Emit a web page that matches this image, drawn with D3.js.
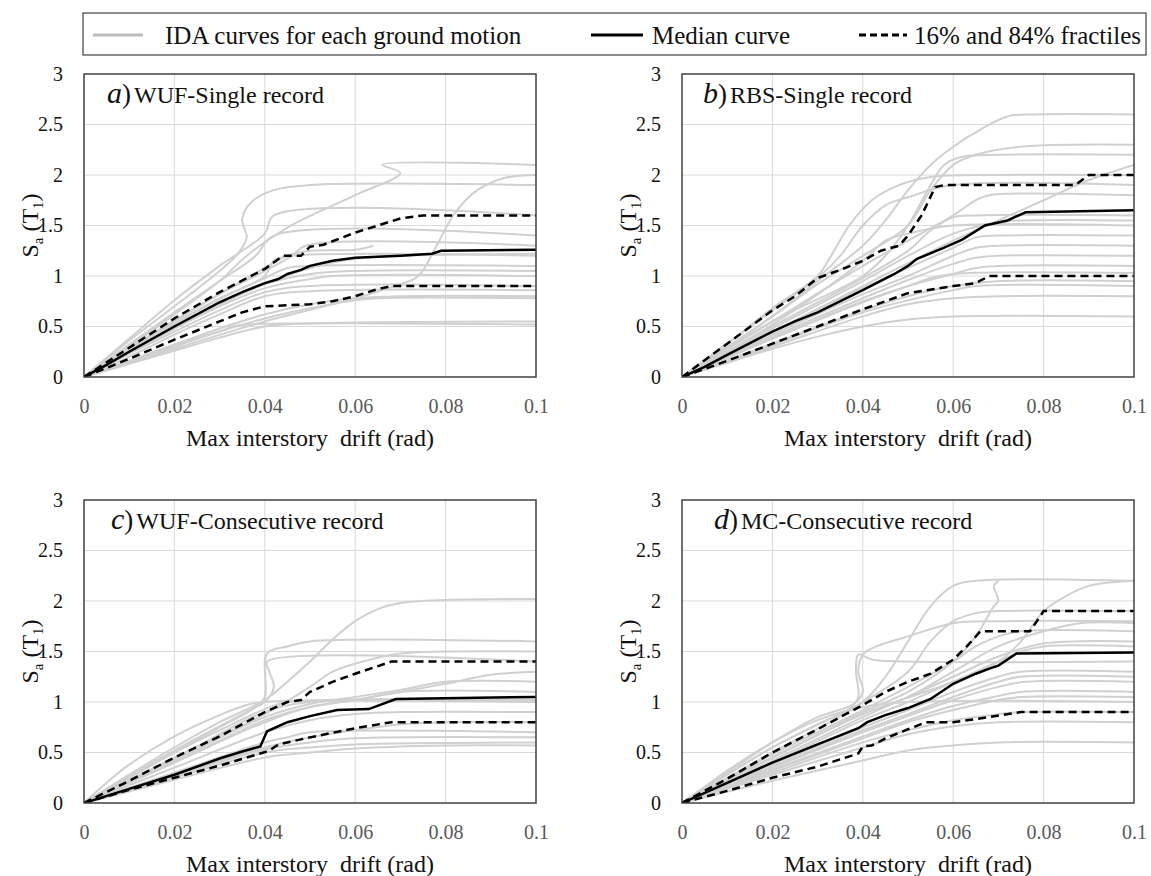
<!DOCTYPE html>
<html>
<head>
<meta charset="utf-8">
<script src="https://cdn.jsdelivr.net/npm/d3@7"></script>
<style>
  body { margin: 0; background: #fff; }
  svg, svg text { font-family: "Liberation Serif", "Tinos", "Times New Roman", "DejaVu Serif", serif; }
</style>
</head>
<body>
<svg id="chart" width="1151" height="876"></svg>
<script>
// tick values
const xTicks = [0, 0.02, 0.04, 0.06, 0.08, 0.1];
const yTicks = [0, 0.5, 1, 1.5, 2, 2.5, 3];

const legendLabels = ["IDA curves for each ground motion", "Median curve", "16% and 84% fractiles"];
const panelLetters = ["a", "b", "c", "d"];
const panelTitles = ["WUF-Single record", "RBS-Single record", "WUF-Consecutive record", "MC-Consecutive record"];

// ---- a) WUF-Single record ----
const idaA = [
  [[0,0],[0.01,0.3],[0.02,0.62],[0.03,0.95],[0.036,1.2],[0.045,1.48],[0.06,1.8],[0.07,2.02],[0.066,2.1],[0.1,2.1]],
  [[0,0],[0.02,0.28],[0.04,0.55],[0.06,0.78],[0.07,0.92],[0.074,1.0],[0.078,1.3],[0.082,1.62],[0.087,1.85],[0.093,1.97],[0.1,2.0]],
  [[0,0],[0.01,0.36],[0.02,0.7],[0.03,1.05],[0.034,1.22],[0.036,1.38],[0.035,1.56],[0.037,1.73],[0.042,1.85],[0.05,1.9],[0.1,1.9]],
  [[0,0],[0.01,0.38],[0.02,0.76],[0.03,1.1],[0.04,1.42],[0.042,1.6],[0.1,1.6]],
  [[0,0],[0.01,0.32],[0.02,0.64],[0.03,0.95],[0.038,1.2],[0.042,1.4],[0.1,1.4]],
  [[0,0],[0.01,0.28],[0.02,0.55],[0.03,0.82],[0.04,1.05],[0.046,1.2],[0.049,1.3],[0.1,1.3]],
  [[0,0],[0.02,0.56],[0.04,1.08],[0.045,1.2],[0.05,1.25],[0.06,1.26],[0.064,1.3]],
  [[0,0],[0.01,0.24],[0.02,0.48],[0.03,0.72],[0.04,0.92],[0.05,1.08],[0.06,1.17],[0.07,1.2],[0.1,1.22]],
  [[0,0],[0.01,0.27],[0.02,0.53],[0.03,0.78],[0.04,1.0],[0.042,1.15],[0.046,1.2],[0.1,1.2]],
  [[0,0],[0.01,0.26],[0.02,0.52],[0.03,0.77],[0.04,0.98],[0.045,1.08],[0.05,1.1],[0.1,1.1]],
  [[0,0],[0.01,0.25],[0.02,0.5],[0.03,0.74],[0.04,0.92],[0.05,1.02],[0.06,1.05],[0.1,1.05]],
  [[0,0],[0.01,0.24],[0.02,0.48],[0.03,0.7],[0.04,0.88],[0.05,0.97],[0.055,1.0],[0.1,1.0]],
  [[0,0],[0.01,0.23],[0.02,0.45],[0.03,0.66],[0.04,0.84],[0.05,0.9],[0.1,0.9]],
  [[0,0],[0.01,0.2],[0.02,0.42],[0.03,0.62],[0.04,0.8],[0.05,0.85],[0.1,0.86]],
  [[0,0],[0.01,0.16],[0.02,0.32],[0.03,0.48],[0.04,0.62],[0.05,0.72],[0.06,0.78],[0.07,0.8],[0.1,0.8]],
  [[0,0],[0.01,0.15],[0.02,0.3],[0.03,0.45],[0.04,0.58],[0.05,0.68],[0.06,0.76],[0.065,0.78],[0.1,0.78]],
  [[0,0],[0.01,0.16],[0.02,0.32],[0.03,0.45],[0.033,0.5],[0.036,0.52],[0.1,0.52]],
  [[0,0],[0.01,0.13],[0.02,0.26],[0.03,0.39],[0.04,0.5],[0.05,0.53],[0.1,0.55]]
];
const medianA = [[0,0],[0.005,0.12],[0.01,0.25],[0.02,0.5],[0.03,0.74],[0.035,0.84],[0.04,0.93],[0.043,0.97],[0.045,1.02],[0.048,1.06],[0.05,1.1],[0.055,1.15],[0.06,1.18],[0.07,1.2],[0.077,1.22],[0.079,1.25],[0.1,1.26]];
const upperA = [[0,0],[0.01,0.29],[0.02,0.58],[0.03,0.84],[0.04,1.07],[0.044,1.2],[0.048,1.2],[0.05,1.29],[0.053,1.31],[0.06,1.43],[0.065,1.5],[0.07,1.57],[0.075,1.6],[0.1,1.6]];
const lowerA = [[0,0],[0.01,0.18],[0.02,0.37],[0.03,0.55],[0.035,0.64],[0.04,0.7],[0.045,0.71],[0.05,0.72],[0.055,0.75],[0.06,0.8],[0.065,0.87],[0.068,0.9],[0.1,0.9]];

// ---- b) RBS-Single record ----
const idaB = [
  [[0,0],[0.02,0.6],[0.03,0.95],[0.04,1.3],[0.045,1.55],[0.05,1.85],[0.055,2.1],[0.06,2.28],[0.066,2.45],[0.072,2.58],[0.078,2.6],[0.1,2.6]],
  [[0,0],[0.02,0.6],[0.03,0.92],[0.04,1.2],[0.05,1.5],[0.055,1.85],[0.06,2.1],[0.065,2.2],[0.075,2.28],[0.1,2.3]],
  [[0,0],[0.02,0.55],[0.04,1.0],[0.045,1.2],[0.05,1.5],[0.055,1.9],[0.058,2.1],[0.062,2.18],[0.07,2.2],[0.1,2.2]],
  [[0,0],[0.02,0.45],[0.04,0.9],[0.06,1.35],[0.07,1.55],[0.08,1.75],[0.09,1.95],[0.1,2.1]],
  [[0,0],[0.01,0.33],[0.02,0.68],[0.03,1.0],[0.033,1.2],[0.037,1.5],[0.042,1.75],[0.048,1.9],[0.055,1.98],[0.07,2.0],[0.1,2.0]],
  [[0,0],[0.02,0.66],[0.03,0.98],[0.035,1.2],[0.04,1.5],[0.045,1.7],[0.05,1.78],[0.06,1.9],[0.1,1.9]],
  [[0,0],[0.02,0.55],[0.04,1.1],[0.05,1.35],[0.06,1.6],[0.065,1.75],[0.068,1.8],[0.1,1.8]],
  [[0,0],[0.02,0.5],[0.04,0.98],[0.05,1.25],[0.055,1.45],[0.06,1.58],[0.065,1.6],[0.1,1.6]],
  [[0,0],[0.02,0.48],[0.04,0.95],[0.05,1.2],[0.06,1.42],[0.07,1.53],[0.075,1.55],[0.1,1.55]],
  [[0,0],[0.02,0.52],[0.04,1.15],[0.045,1.35],[0.05,1.42],[0.06,1.5],[0.1,1.5]],
  [[0,0],[0.02,0.45],[0.04,0.88],[0.05,1.08],[0.06,1.28],[0.065,1.38],[0.07,1.4],[0.1,1.4]],
  [[0,0],[0.02,0.42],[0.04,0.82],[0.05,1.0],[0.06,1.2],[0.065,1.28],[0.07,1.3],[0.1,1.3]],
  [[0,0],[0.02,0.4],[0.04,0.78],[0.05,0.96],[0.06,1.12],[0.065,1.18],[0.07,1.2],[0.1,1.2]],
  [[0,0],[0.02,0.38],[0.04,0.75],[0.05,0.9],[0.06,1.02],[0.065,1.08],[0.07,1.1],[0.1,1.1]],
  [[0,0],[0.02,0.38],[0.04,0.74],[0.05,0.9],[0.055,0.98],[0.06,1.02],[0.1,1.03]],
  [[0,0],[0.02,0.33],[0.04,0.66],[0.05,0.8],[0.06,0.9],[0.07,0.95],[0.1,0.95]],
  [[0,0],[0.02,0.32],[0.04,0.64],[0.05,0.76],[0.06,0.86],[0.065,0.9],[0.1,0.9]],
  [[0,0],[0.02,0.3],[0.04,0.6],[0.05,0.72],[0.06,0.78],[0.07,0.8],[0.1,0.8]],
  [[0,0],[0.01,0.14],[0.02,0.28],[0.03,0.4],[0.04,0.5],[0.05,0.57],[0.06,0.6],[0.1,0.6]]
];
const medianB = [[0,0],[0.005,0.1],[0.01,0.22],[0.02,0.45],[0.025,0.55],[0.03,0.64],[0.04,0.86],[0.047,1.02],[0.05,1.1],[0.052,1.17],[0.058,1.28],[0.062,1.36],[0.067,1.5],[0.072,1.55],[0.076,1.63],[0.1,1.65]];
const upperB = [[0,0],[0.01,0.33],[0.02,0.66],[0.025,0.8],[0.03,0.98],[0.035,1.06],[0.04,1.15],[0.044,1.25],[0.048,1.3],[0.05,1.4],[0.053,1.6],[0.056,1.88],[0.058,1.9],[0.087,1.9],[0.09,2.0],[0.1,2.0]];
const lowerB = [[0,0],[0.01,0.16],[0.02,0.33],[0.03,0.5],[0.04,0.67],[0.045,0.75],[0.05,0.83],[0.06,0.9],[0.065,0.93],[0.068,1.0],[0.1,1.0]];

// ---- c) WUF-Consecutive record ----
const idaC = [
  [[0,0],[0.01,0.28],[0.02,0.55],[0.03,0.8],[0.04,1.02],[0.045,1.2],[0.05,1.4],[0.055,1.62],[0.06,1.8],[0.065,1.92],[0.07,1.98],[0.08,2.01],[0.1,2.02]],
  [[0,0],[0.02,0.5],[0.03,0.75],[0.038,0.95],[0.04,1.05],[0.0405,1.48],[0.045,1.55],[0.05,1.6],[0.1,1.6]],
  [[0,0],[0.02,0.52],[0.03,0.76],[0.038,0.95],[0.04,1.0],[0.042,1.15],[0.041,1.3],[0.0405,1.4],[0.1,1.4]],
  [[0,0],[0.02,0.45],[0.04,0.88],[0.05,1.15],[0.055,1.3],[0.06,1.38],[0.07,1.48],[0.08,1.5],[0.1,1.5]],
  [[0,0],[0.02,0.4],[0.04,0.82],[0.05,0.95],[0.06,1.02],[0.07,1.1],[0.08,1.18],[0.09,1.27],[0.1,1.3]],
  [[0,0],[0.02,0.42],[0.04,0.85],[0.05,0.98],[0.06,1.05],[0.07,1.12],[0.08,1.2],[0.1,1.2]],
  [[0,0],[0.02,0.4],[0.04,0.8],[0.05,0.95],[0.06,1.02],[0.07,1.1],[0.1,1.1]],
  [[0,0],[0.005,0.2],[0.01,0.38],[0.02,0.66],[0.03,0.87],[0.036,0.97],[0.04,1.0],[0.1,1.0]],
  [[0,0],[0.02,0.44],[0.04,0.9],[0.05,1.0],[0.1,1.02]],
  [[0,0],[0.02,0.35],[0.04,0.7],[0.05,0.82],[0.06,0.88],[0.07,0.9],[0.1,0.9]],
  [[0,0],[0.02,0.28],[0.04,0.55],[0.05,0.65],[0.06,0.72],[0.07,0.78],[0.08,0.8],[0.1,0.8]],
  [[0,0],[0.02,0.3],[0.04,0.6],[0.045,0.65],[0.05,0.7],[0.1,0.7]],
  [[0,0],[0.02,0.27],[0.04,0.53],[0.05,0.6],[0.06,0.64],[0.1,0.65]],
  [[0,0],[0.02,0.25],[0.04,0.5],[0.05,0.55],[0.06,0.58],[0.1,0.6]],
  [[0,0],[0.02,0.23],[0.04,0.45],[0.05,0.5],[0.06,0.54],[0.08,0.57],[0.1,0.57]],
  [[0,0],[0.02,0.5],[0.03,0.72],[0.04,0.93],[0.045,1.0],[0.1,1.0]]
];
const medianC = [[0,0],[0.01,0.14],[0.02,0.28],[0.03,0.44],[0.035,0.51],[0.039,0.56],[0.0405,0.71],[0.045,0.8],[0.05,0.86],[0.056,0.92],[0.063,0.93],[0.069,1.03],[0.1,1.05]];
const upperC = [[0,0],[0.01,0.22],[0.02,0.45],[0.03,0.66],[0.04,0.9],[0.045,1.0],[0.048,1.02],[0.05,1.1],[0.055,1.2],[0.06,1.28],[0.068,1.4],[0.1,1.4]];
const lowerC = [[0,0],[0.01,0.13],[0.02,0.25],[0.03,0.37],[0.039,0.49],[0.041,0.52],[0.043,0.58],[0.05,0.65],[0.06,0.74],[0.068,0.8],[0.1,0.8]];

// ---- d) MC-Consecutive record ----
const idaD = [
  [[0,0],[0.02,0.5],[0.04,1.0],[0.045,1.25],[0.05,1.6],[0.055,1.95],[0.06,2.15],[0.065,2.2],[0.1,2.2]],
  [[0,0],[0.02,0.45],[0.04,0.88],[0.06,1.2],[0.07,1.4],[0.075,1.6],[0.08,1.9],[0.085,2.05],[0.09,2.15],[0.1,2.2]],
  [[0,0],[0.02,0.45],[0.04,0.9],[0.05,1.1],[0.06,1.4],[0.065,1.65],[0.069,1.95],[0.07,2.0],[0.069,2.15],[0.07,2.2]],
  [[0,0],[0.02,0.55],[0.04,1.0],[0.05,1.3],[0.055,1.6],[0.06,1.8],[0.065,1.88],[0.07,1.9],[0.1,1.9]],
  [[0,0],[0.01,0.3],[0.02,0.6],[0.03,0.85],[0.038,0.98],[0.04,1.1],[0.039,1.3],[0.04,1.47],[0.043,1.55],[0.05,1.65],[0.06,1.78],[0.07,1.8],[0.1,1.8]],
  [[0,0],[0.02,0.45],[0.04,0.88],[0.05,1.05],[0.06,1.3],[0.07,1.55],[0.08,1.7],[0.088,1.78],[0.1,1.78]],
  [[0,0],[0.02,0.48],[0.04,0.92],[0.05,1.15],[0.06,1.4],[0.065,1.55],[0.07,1.65],[0.075,1.7],[0.1,1.7]],
  [[0,0],[0.02,0.42],[0.04,0.85],[0.05,1.05],[0.06,1.25],[0.07,1.45],[0.08,1.58],[0.1,1.6]],
  [[0,0],[0.02,0.4],[0.04,0.82],[0.05,1.0],[0.06,1.2],[0.07,1.4],[0.075,1.5],[0.08,1.55],[0.1,1.55]],
  [[0,0],[0.01,0.28],[0.02,0.55],[0.03,0.78],[0.037,0.93],[0.039,1.05],[0.0385,1.3],[0.039,1.47],[0.042,1.42],[0.05,1.4],[0.1,1.4]],
  [[0,0],[0.02,0.38],[0.04,0.75],[0.05,0.92],[0.06,1.1],[0.07,1.25],[0.075,1.3],[0.1,1.3]],
  [[0,0],[0.02,0.36],[0.04,0.72],[0.05,0.88],[0.06,1.05],[0.07,1.2],[0.075,1.25],[0.1,1.25]],
  [[0,0],[0.02,0.35],[0.04,0.7],[0.05,0.86],[0.06,1.02],[0.07,1.15],[0.076,1.2],[0.1,1.2]],
  [[0,0],[0.02,0.33],[0.04,0.66],[0.05,0.82],[0.06,0.96],[0.07,1.06],[0.075,1.1],[0.1,1.1]],
  [[0,0],[0.02,0.32],[0.04,0.64],[0.05,0.8],[0.06,0.92],[0.07,1.02],[0.075,1.05],[0.1,1.05]],
  [[0,0],[0.005,0.16],[0.01,0.32],[0.02,0.6],[0.03,0.82],[0.04,0.95],[0.05,1.0],[0.1,1.0]],
  [[0,0],[0.02,0.3],[0.04,0.6],[0.05,0.72],[0.06,0.82],[0.07,0.88],[0.075,0.9],[0.1,0.9]],
  [[0,0],[0.02,0.28],[0.04,0.55],[0.05,0.68],[0.06,0.76],[0.07,0.8],[0.1,0.8]],
  [[0,0],[0.02,0.22],[0.04,0.42],[0.05,0.52],[0.06,0.57],[0.07,0.6],[0.1,0.6]]
];
const medianD = [[0,0],[0.01,0.2],[0.02,0.4],[0.03,0.58],[0.039,0.74],[0.041,0.8],[0.045,0.87],[0.05,0.94],[0.055,1.03],[0.06,1.18],[0.065,1.28],[0.068,1.33],[0.07,1.36],[0.074,1.48],[0.1,1.49]];
const upperD = [[0,0],[0.01,0.24],[0.02,0.5],[0.03,0.73],[0.04,0.97],[0.045,1.1],[0.05,1.2],[0.055,1.28],[0.06,1.42],[0.063,1.55],[0.066,1.7],[0.077,1.7],[0.08,1.9],[0.1,1.9]];
const lowerD = [[0,0],[0.01,0.12],[0.02,0.25],[0.03,0.36],[0.039,0.49],[0.04,0.56],[0.042,0.57],[0.045,0.64],[0.05,0.73],[0.054,0.8],[0.06,0.8],[0.065,0.83],[0.075,0.9],[0.1,0.9]];

const panelData = [
  {ida: idaA, median: medianA, upper: upperA, lower: lowerA},
  {ida: idaB, median: medianB, upper: upperB, lower: lowerB},
  {ida: idaC, median: medianC, upper: upperC, lower: lowerC},
  {ida: idaD, median: medianD, upper: upperD, lower: lowerD}
];

// layout
const FONT = "'Liberation Serif', Tinos, 'Times New Roman', 'DejaVu Serif', serif";
const plotW = 452, plotH = 303;
const panelPos = [
  {left: 84, top: 74, titleDx: 23},
  {left: 682, top: 74, titleDx: 21},
  {left: 84, top: 500, titleDx: 27},
  {left: 682, top: 500, titleDx: 32}
];
const idaColor = "#d0d0d0";

const svg = d3.select("#chart").attr("font-family", FONT);

// ---------- legend ----------
let legend = svg.append("g");
legend.append("rect")
    .attr("x", 83).attr("y", 13)
    .attr("width", 1063).attr("height", 42)
    .attr("fill", "none").attr("stroke", "#404040").attr("stroke-width", 1.2);

const legendItems = [
  {x: 93, len: 50, gap: 22, color: "#bdbdbd", dash: null},
  {x: 591, len: 52, gap: 9, color: "#000", dash: null},
  {x: 859, len: 48, gap: 7, color: "#000", dash: "7,4"}
];
legendItems.forEach((it, i) => {
    legend.append("line")
        .attr("x1", it.x).attr("x2", it.x + it.len)
        .attr("y1", 35).attr("y2", 35)
        .attr("stroke", it.color).attr("stroke-width", 3)
        .attr("stroke-dasharray", it.dash);
    legend.append("text")
        .attr("x", it.x + it.len + it.gap).attr("y", 44)
        .attr("font-family", FONT)
        .attr("font-size", 25).attr("fill", "#111")
        .text(legendLabels[i]);
});

// ---------- panels ----------
const x = d3.scaleLinear().domain([0, 0.1]).range([0, plotW]);
const y = d3.scaleLinear().domain([0, 3]).range([plotH, 0]);

const line = d3.line().x(d => x(d[0])).y(d => y(d[1]));
const smooth = d3.line().x(d => x(d[0])).y(d => y(d[1])).curve(d3.curveCatmullRom.alpha(0.5));

panelData.forEach((pd, i) => {
    let pos = panelPos[i];
    let g = svg.append("g").attr("transform", "translate(" + pos.left + "," + pos.top + ")");

    g.append("clipPath").attr("id", "clip" + i)
        .append("rect").attr("width", plotW).attr("height", plotH);

    // grid
    g.append("g").selectAll("line").data(xTicks.slice(1, -1)).enter()
        .append("line")
        .attr("x1", d => x(d)).attr("x2", d => x(d))
        .attr("y1", 0).attr("y2", plotH)
        .attr("stroke", "#d9d9d9").attr("stroke-width", 1);
    g.append("g").selectAll("line").data(yTicks.slice(1, -1)).enter()
        .append("line")
        .attr("x1", 0).attr("x2", plotW)
        .attr("y1", d => y(d)).attr("y2", d => y(d))
        .attr("stroke", "#d9d9d9").attr("stroke-width", 1);

    // axes labels
    let xAxis = g.append("g").attr("transform", "translate(0," + plotH + ")")
        .call(d3.axisBottom(x).tickValues(xTicks).tickSize(0).tickPadding(22).tickFormat(d => String(d)));
    xAxis.attr("font-family", FONT);
    xAxis.select(".domain").remove();
    xAxis.selectAll("text").attr("font-size", 20).attr("font-family", FONT).attr("fill", "#595959");

    let yAxis = g.append("g")
        .call(d3.axisLeft(y).tickValues(yTicks).tickSize(0).tickPadding(21).tickFormat(d => String(d)));
    yAxis.attr("font-family", FONT);
    yAxis.select(".domain").remove();
    yAxis.selectAll("text").attr("font-size", 20).attr("font-family", FONT).attr("fill", "#111");

    // curves
    let curves = g.append("g").attr("clip-path", "url(#clip" + i + ")");
    curves.selectAll("path.ida").data(pd.ida).enter()
        .append("path").attr("class", "ida")
        .attr("d", smooth)
        .attr("fill", "none").attr("stroke", idaColor).attr("stroke-width", 2);
    curves.append("path").datum(pd.lower)
        .attr("d", line).attr("fill", "none")
        .attr("stroke", "#000").attr("stroke-width", 2.5).attr("stroke-dasharray", "8,5");
    curves.append("path").datum(pd.upper)
        .attr("d", line).attr("fill", "none")
        .attr("stroke", "#000").attr("stroke-width", 2.5).attr("stroke-dasharray", "8,5");
    curves.append("path").datum(pd.median)
        .attr("d", line).attr("fill", "none")
        .attr("stroke", "#000").attr("stroke-width", 2.5);

    // frame
    g.append("rect").attr("width", plotW).attr("height", plotH)
        .attr("fill", "none").attr("stroke", "#404040").attr("stroke-width", 1.5);

    // panel title
    let title = g.append("text").attr("x", pos.titleDx).attr("y", 29)
        .attr("font-family", FONT).attr("fill", "#111");
    title.append("tspan").attr("font-style", "italic").attr("font-size", 30).text(panelLetters[i]);
    title.append("tspan").attr("font-size", 27).text(")");
    title.append("tspan").attr("font-size", 24).attr("dx", 3).text(panelTitles[i]);

    // x axis title
    g.append("text")
        .attr("x", plotW / 2).attr("y", plotH + 69)
        .attr("text-anchor", "middle").attr("font-size", 24).attr("fill", "#111")
        .attr("font-family", FONT)
        .style("white-space", "pre")
        .text("Max interstory  drift (rad)");

    // y axis title
    let yt = g.append("text")
        .attr("transform", "translate(-46," + (plotH / 2) + ") rotate(-90)")
        .attr("text-anchor", "middle").attr("font-size", 24).attr("fill", "#111")
        .attr("font-family", FONT);
    yt.append("tspan").text("S");
    yt.append("tspan").attr("font-size", 15).attr("dy", 5).text("a");
    yt.append("tspan").attr("dy", -5).style("white-space", "pre").text(" (T");
    yt.append("tspan").attr("font-size", 15).attr("dy", 5).text("1");
    yt.append("tspan").attr("dy", -5).text(")");
});
</script>
</body>
</html>
